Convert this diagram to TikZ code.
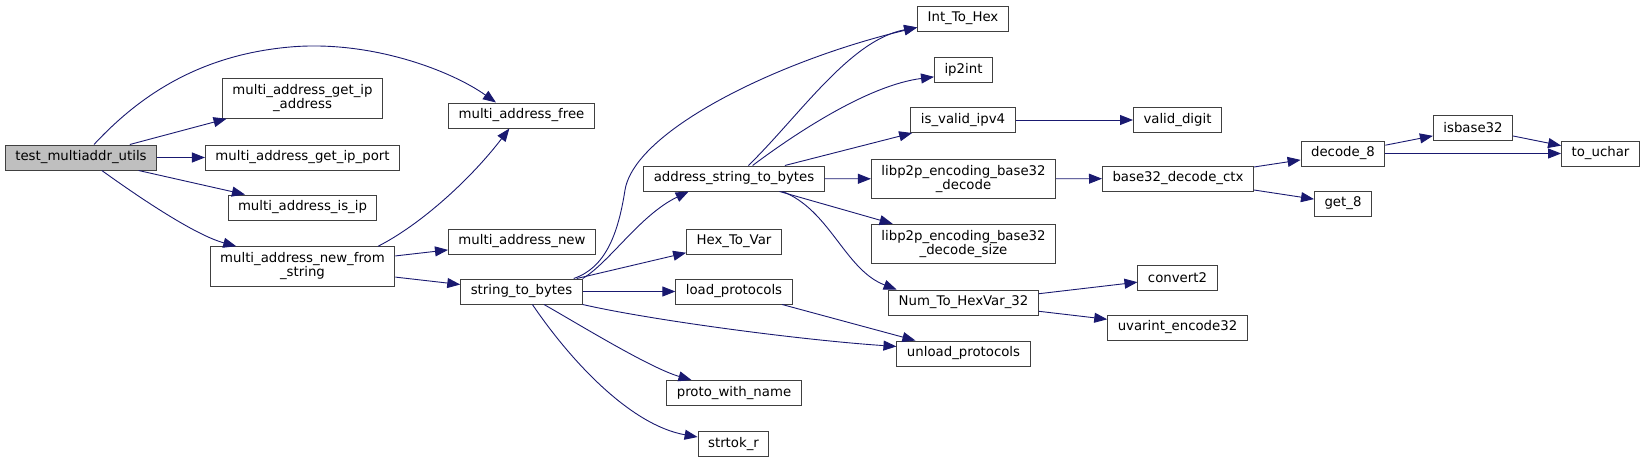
\documentclass[tikz,border=0pt]{standalone}
\usepackage{fontspec}
\setmainfont{DejaVu Sans}
\usetikzlibrary{arrows.meta}
\definecolor{callblue}{HTML}{191970}
\begin{document}
\begin{tikzpicture}[x=1pt,y=-1pt,
 fn/.style={draw=black!75,line width=1pt,fill=white,inner xsep=10pt,inner ysep=0pt,
   minimum height=25pt,align=center,font=\fontsize{13.3}{14}\selectfont},
 call/.style={draw=callblue,line width=.9pt,-{Triangle[length=13pt,width=10pt]}}]
 \useasboundingbox (0,0) rectangle (1645,463);
 \node[fn,fill=black!25] (test) at (81,157.5) {test\_multiaddr\_utils};
 \node[fn,minimum height=39.5pt] (gipa) at (302.5,98.5) {multi\_address\_get\_ip\\\_address};
 \node[fn] (gipp) at (302.5,157.5) {multi\_address\_get\_ip\_port};
 \node[fn] (isip) at (302.5,207.5) {multi\_address\_is\_ip};
 \node[fn,minimum height=39.5pt] (nfs) at (302.5,266.5) {multi\_address\_new\_from\\\_string};
 \node[fn] (free) at (521.5,115.5) {multi\_address\_free};
 \node[fn] (new) at (522,241.5) {multi\_address\_new};
 \node[fn] (stb) at (521.5,291.5) {string\_to\_bytes};
 \node[fn] (asb) at (734,178.5) {address\_string\_to\_bytes};
 \node[fn] (htv) at (734,241.5) {Hex\_To\_Var};
 \node[fn] (lp) at (734,291.5) {load\_protocols};
 \node[fn] (pwn) at (734,393) {proto\_with\_name};
 \node[fn] (strtok) at (733.5,444) {strtok\_r};
 \node[fn] (ith) at (963,18.5) {Int\_To\_Hex};
 \node[fn] (ip2int) at (963.5,69.5) {ip2int};
 \node[fn] (ipv4) at (963,120) {is\_valid\_ipv4};
 \node[fn,minimum height=39.5pt] (b32) at (963.5,179) {libp2p\_encoding\_base32\\\_decode};
 \node[fn,minimum height=39.5pt] (b32s) at (963.5,244) {libp2p\_encoding\_base32\\\_decode\_size};
 \node[fn] (num) at (963.5,302.5) {Num\_To\_HexVar\_32};
 \node[fn] (unl) at (963.5,353.5) {unload\_protocols};
 \node[fn] (vd) at (1177.5,120) {valid\_digit};
 \node[fn] (ctx) at (1178,178.5) {base32\_decode\_ctx};
 \node[fn] (conv) at (1177.5,277.5) {convert2};
 \node[fn] (uv) at (1177.5,327.5) {uvarint\_encode32};
 \node[fn] (dec8) at (1343,153.5) {decode\_8};
 \node[fn] (get8) at (1343,203.5) {get\_8};
 \node[fn] (isb) at (1473,128) {isbase32};
 \node[fn] (tou) at (1600.5,153.5) {to\_uchar};
 \draw[call] (test) -- (gipa);
 \draw[call] (test) -- (gipp);
 \draw[call] (test) -- (isip);
 \draw[call] (test.45) .. controls (140,95) and (200,55) .. (290,47)
   .. controls (370,40) and (450,70) .. (free.153);
 \draw[call] (test.-32) .. controls (140,198) and (195,235) .. (nfs.163);
 \draw[call] (nfs.15) .. controls (420,225) and (470,180) .. (free.-133);
 \draw[call] (nfs) -- (new);
 \draw[call] (nfs) -- (stb);
 \draw[call] (stb.14) .. controls (605,268) and (618,235) .. (625,190)
   .. controls (635,130) and (780,60) .. (ith.191);
 \draw[call] (stb.12) .. controls (610,262) and (640,215) .. (asb.196);
 \draw[call] (stb) -- (htv);
 \draw[call] (stb) -- (lp);
 \draw[call] (stb.-12) .. controls (650,320) and (800,340) .. (unl.174);
 \draw[call] (stb.-30) .. controls (580,325) and (650,368) .. (pwn.163);
 \draw[call] (stb.-50) .. controls (570,360) and (630,425) .. (strtok.169);
 \draw[call] (lp) -- (unl);
 \draw[call] (asb.42) .. controls (800,115) and (850,40) .. (ith.191);
 \draw[call] (asb.35) .. controls (800,130) and (870,85) .. (ip2int.194);
 \draw[call] (asb) -- (ipv4);
 \draw[call] (asb) -- (b32);
 \draw[call] (asb) -- (b32s);
 \draw[call] (asb.-15) .. controls (830,210) and (845,270) .. (num.169);
 \draw[call] (ipv4) -- (vd);
 \draw[call] (b32) -- (ctx);
 \draw[call] (ctx) -- (dec8);
 \draw[call] (ctx) -- (get8);
 \draw[call] (dec8) -- (isb);
 \draw[call] (dec8) -- (tou);
 \draw[call] (isb) -- (tou);
 \draw[call] (num) -- (conv);
 \draw[call] (num) -- (uv);
\end{tikzpicture}
\end{document}
